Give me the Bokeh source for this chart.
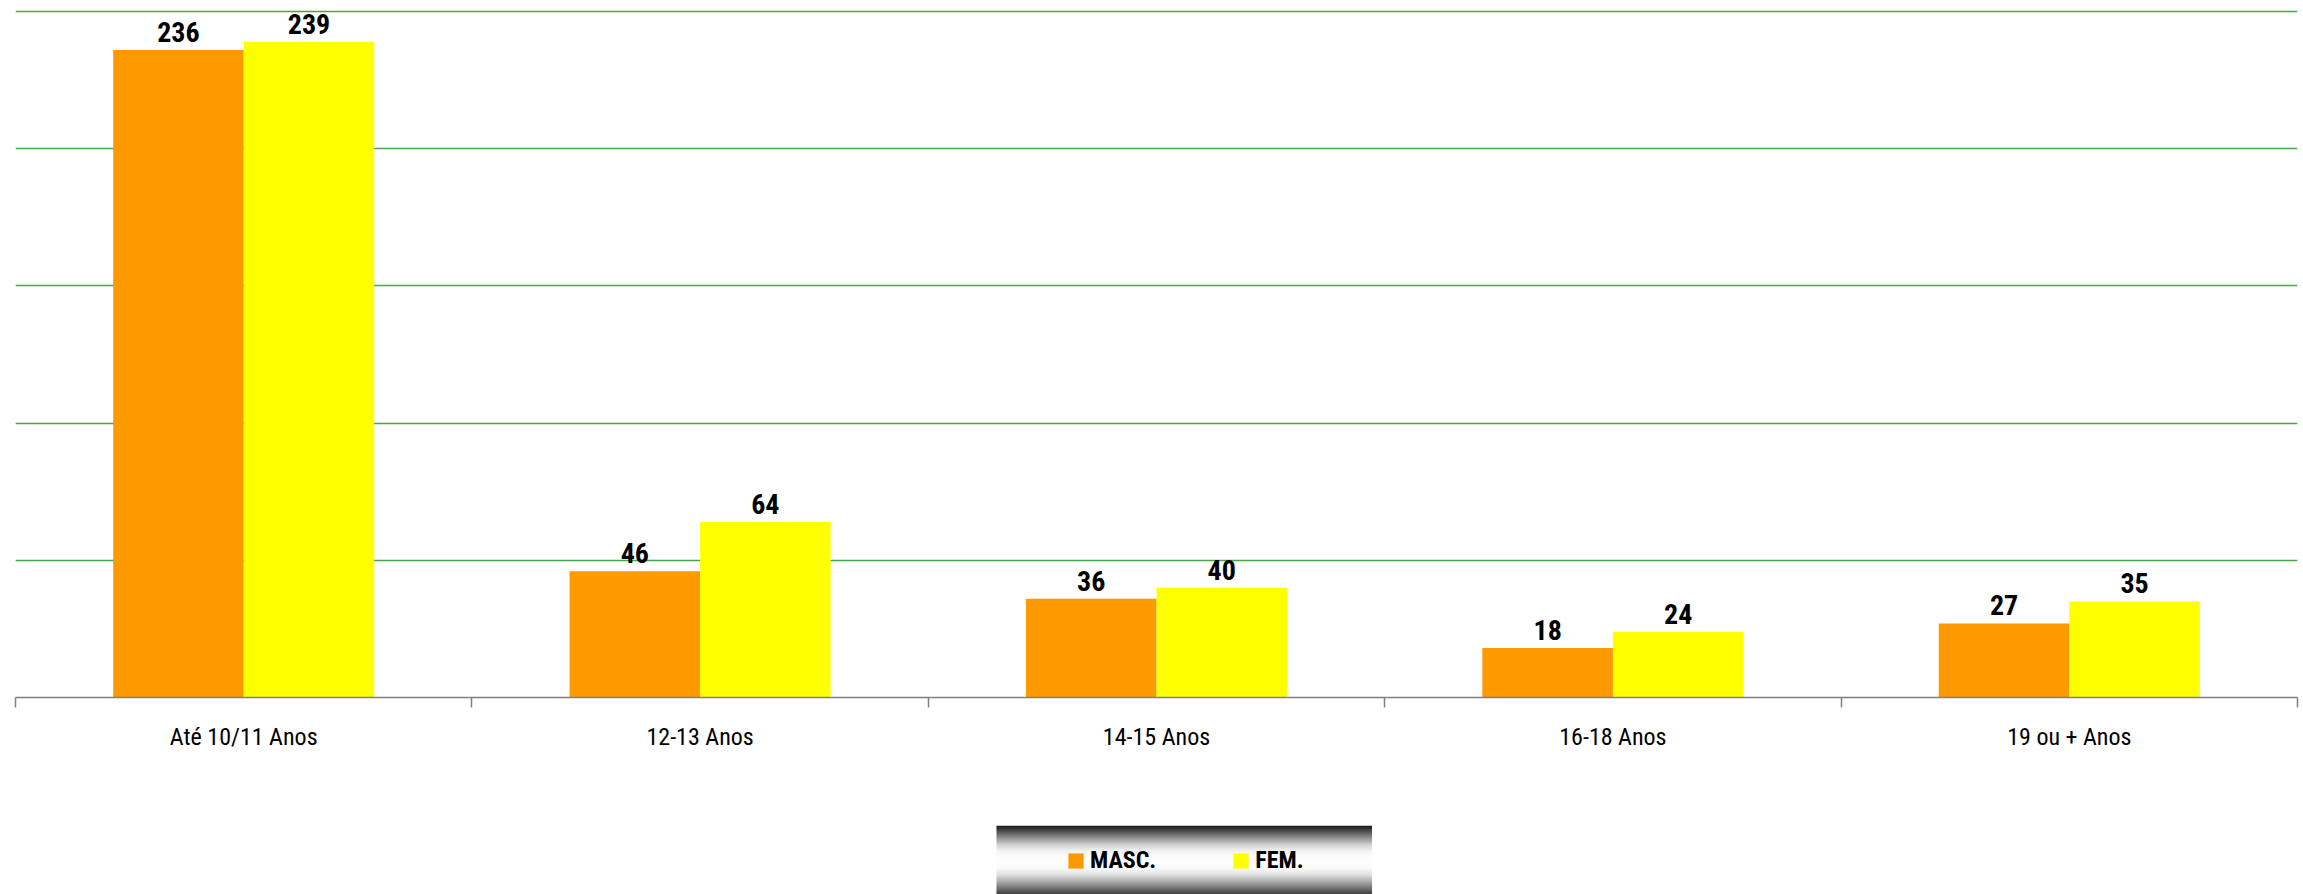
import numpy as np
from bokeh.plotting import figure
from bokeh.models import ColumnDataSource, Range1d, FixedTicker, Legend, LegendItem
from bokeh.layouts import column
from bokeh.core.properties import value
from bokeh.embed import file_html
from bokeh.resources import INLINE
from bokeh.transform import dodge

# ---- data ----
categories = ["Até 10/11 Anos", "12-13 Anos", "14-15 Anos", "16-18 Anos", "19 ou + Anos"]
masc = [236, 46, 36, 18, 27]
fem = [239, 64, 40, 24, 35]
series_names = ["MASC.", "FEM."]
series_colors = ["#FF9900", "#FFFF00"]
y_grid_ticks = [50, 100, 150, 200, 250]

FONT = "Roboto Condensed"

centers = [i + 0.5 for i in range(len(categories))]
boundaries = list(range(len(categories) + 1))
src = ColumnDataSource(dict(
    x=centers, masc=masc, fem=fem,
    masc_lbl=[str(v) for v in masc], fem_lbl=[str(v) for v in fem],
))

p = figure(width=2303, height=825, x_range=Range1d(0, len(categories)), y_range=Range1d(0, 251.1),
           output_backend="svg", toolbar_location=None,
           min_border_top=8, min_border_left=15, min_border_right=6, min_border_bottom=128)
p.outline_line_color = None
p.background_fill_color = "white"

bw = 0.286
p.vbar(x=dodge("x", -bw / 2), top="masc", bottom=0, width=bw, source=src,
       fill_color=series_colors[0], line_color=None)
p.vbar(x=dodge("x", bw / 2), top="fem", bottom=0, width=bw, source=src,
       fill_color=series_colors[1], line_color=None)

for fld, off in (("masc", -bw / 2), ("fem", bw / 2)):
    p.text(x=dodge("x", off), y=fld, text=fld + "_lbl", source=src,
           text_align="center", text_baseline="alphabetic", y_offset=-18,
           text_font=value(FONT), text_font_size="28px", text_font_style="bold",
           text_color="black")

p.yaxis.visible = False
p.xgrid.visible = False
p.ygrid.ticker = FixedTicker(ticks=y_grid_ticks)
p.ygrid.grid_line_color = "#44A844"
p.ygrid.grid_line_width = 1.5

ax = p.xaxis[0]
ax.ticker = FixedTicker(ticks=centers, minor_ticks=boundaries)
ax.major_label_overrides = {c: n for c, n in zip(centers, categories)}
ax.axis_line_color = "#808080"
ax.axis_line_width = 1.5
ax.major_tick_line_color = None
ax.major_tick_out = 0
ax.major_tick_in = 0
ax.minor_tick_line_color = "#808080"
ax.minor_tick_line_width = 1.5
ax.minor_tick_out = 10
ax.minor_tick_in = 0
ax.major_label_text_font = FONT
ax.major_label_text_font_size = "24px"
ax.major_label_text_color = "black"
ax.major_label_standoff = 15

# ---- legend strip ----
LH = 69
lf = figure(width=2303, height=LH, x_range=Range1d(0, 2303), y_range=Range1d(0, LH),
            output_backend="svg", toolbar_location=None,
            min_border_top=0, min_border_left=0, min_border_right=0, min_border_bottom=0)
lf.axis.visible = False
lf.grid.visible = False
lf.outline_line_color = None

stop_y = [0, 5, 10, 15, 20, 25, 30, 37, 43, 49, 55, 61, 66, 69]
stop_g = [25, 70, 120, 170, 215, 240, 252, 255, 250, 225, 180, 130, 85, 60]
ys = np.arange(LH) + 0.5
g = np.interp(ys, stop_y, stop_g).astype(np.uint8)[::-1]
img = np.empty((LH, 1), dtype=np.uint32)
view = img.view(dtype=np.uint8).reshape((LH, 1, 4))
view[:, 0, 0] = g
view[:, 0, 1] = g
view[:, 0, 2] = g
view[:, 0, 3] = 255
lf.image_rgba(image=[img], x=990, y=0, dw=379, dh=LH)

r1 = lf.vbar(x=[0], top=[0], width=0, fill_color=series_colors[0], line_color=None)
r2 = lf.vbar(x=[0], top=[0], width=0, fill_color=series_colors[1], line_color=None)
leg = Legend(items=[LegendItem(label=series_names[0], renderers=[r1]),
                    LegendItem(label=series_names[1], renderers=[r2])],
             orientation="horizontal", location=(1051, 20),
             glyph_width=19, glyph_height=19, label_standoff=5, spacing=75,
             padding=0, margin=0, border_line_color=None, background_fill_alpha=0,
             label_text_font=FONT, label_text_font_style="bold",
             label_text_font_size="24px", label_text_color="black", label_height=19)
lf.add_layout(leg, "center")

layout = column(p, lf, spacing=0)
open("out.html", "w").write(file_html(layout, INLINE))
